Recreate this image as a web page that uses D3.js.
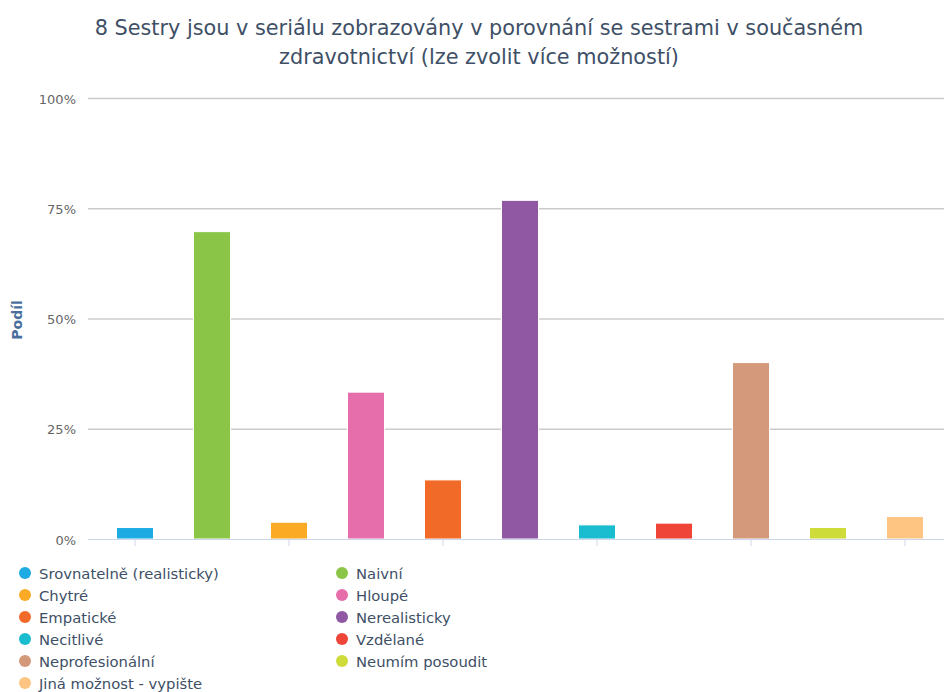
<!DOCTYPE html>
<html><head><meta charset="utf-8">
<script src="https://cdn.jsdelivr.net/npm/d3@7"></script>
<style>
body{margin:0;background:#fff;}
svg{display:block;font-family:"DejaVu Sans",sans-serif;}
</style></head><body>
<svg id="chart" width="944" height="692"></svg>
<script>
const categories = ["Srovnatelně (realisticky)","Naivní","Chytré","Hloupé","Empatické","Nerealisticky","Necitlivé","Vzdělané","Neprofesionální","Neumím posoudit","Jiná možnost - vypište"];
const values = [2.6, 69.7, 3.8, 33.3, 13.4, 76.8, 3.2, 3.6, 40.0, 2.6, 5.1];
const colors = ["#1eaae2","#8bc548","#fbaa26","#e56eab","#f26a27","#9057a2","#1abccf","#ef4538","#d4987b","#cedc3a","#fdc482"];
const yTicks = [0, 25, 50, 75, 100];
const legendOrder = [0,1,2,3,4,5,6,7,8,9,10];

const svg = d3.select("#chart");
const plotLeft = 88, plotRight = 944, plotTop = 98, plotBottom = 539;

const x = d3.scalePoint().domain(categories).range([135, 905]);
const y = d3.scaleLinear().domain([0, 100]).range([plotBottom, plotTop]);
const barW = 37;

// title
svg.append("text").attr("x", 479).attr("y", 35).attr("text-anchor","middle")
  .attr("font-size", 20.8).attr("fill", "#3e4f66").text("8 Sestry jsou v seriálu zobrazovány v porovnání se sestrami v současném");
svg.append("text").attr("x", 479).attr("y", 64).attr("text-anchor","middle")
  .attr("font-size", 20.8).attr("fill", "#3e4f66").text("zdravotnictví (lze zvolit více možností)");

// grid
const yAxis = d3.axisLeft(y).tickValues(yTicks).tickFormat(d => d + "%").tickSize(-(plotRight-plotLeft)).tickPadding(12);
const gy = svg.append("g").attr("transform", `translate(${plotLeft},0)`).call(yAxis);
gy.select(".domain").remove();
gy.selectAll(".tick line").attr("stroke", "#cccccc").attr("stroke-width", 1.3);
gy.selectAll(".tick text").attr("fill", "#666666").attr("font-size", 13).attr("font-family","DejaVu Sans").attr("dy","0.4em");
gy.selectAll(".tick").filter(d => d === 0).select("line").remove();

// y label
svg.append("text").attr("transform","translate(22,320) rotate(-90)").attr("text-anchor","middle")
  .attr("font-size", 14).attr("font-weight","bold").attr("fill","#4a6f9c").text("Podíl");

// bars
svg.append("g").selectAll("rect").data(values).join("rect")
  .attr("x", (d,i) => x(categories[i]) - barW/2)
  .attr("y", d => y(d))
  .attr("width", barW)
  .attr("height", d => plotBottom - y(d))
  .attr("fill", (d,i) => colors[i])
  .attr("stroke", "#ffffff").attr("stroke-width", 1);

// x axis
svg.append("line").attr("x1", plotLeft).attr("x2", plotRight).attr("y1", plotBottom+0.5).attr("y2", plotBottom+0.5)
  .attr("stroke", "#ccd6eb").attr("stroke-width", 1);
svg.append("g").selectAll("line").data(categories.filter((d,i)=>i%2===0)).join("line")
  .attr("x1", d => x(d)).attr("x2", d => x(d)).attr("y1", plotBottom).attr("y2", plotBottom+7)
  .attr("stroke", "#ccd6eb");

// legend
const lg = svg.append("g");
legendOrder.forEach((ci, k) => {
  const col = k % 2, row = Math.floor(k / 2);
  const lx = col === 0 ? 25 : 342, ly = 573 + row * 22;
  lg.append("circle").attr("cx", lx).attr("cy", ly).attr("r", 6).attr("fill", colors[ci]);
  lg.append("text").attr("x", lx + 14).attr("y", ly + 5.5).attr("font-size", 14.8).attr("fill", "#3e4f66").text(categories[ci]);
});
</script>
</body></html>
